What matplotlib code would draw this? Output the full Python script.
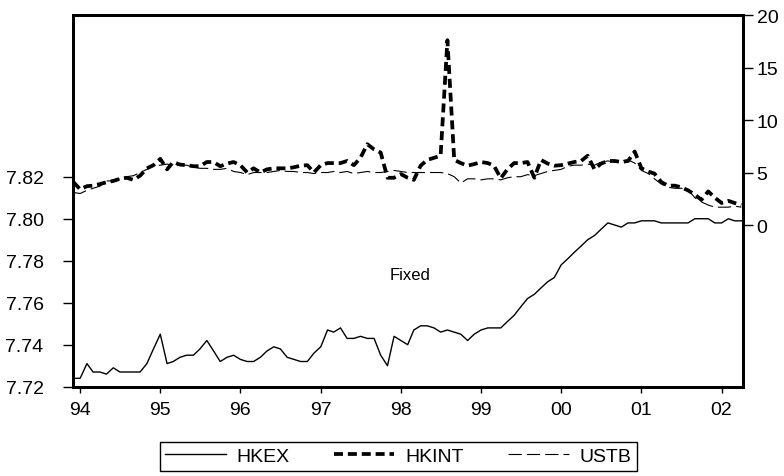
import pandas as pd
import numpy as np
import matplotlib
matplotlib.use("Agg")
import matplotlib.pyplot as plt
import matplotlib.dates as mdates

plt.rcParams['font.family'] = ['Liberation Sans', 'DejaVu Sans']

# monthly data, Dec 1993 - Apr 2002
start_month = "1993-12-01"

hkex = [7.724,
        7.724, 7.731, 7.727, 7.727, 7.726, 7.729, 7.727, 7.727, 7.727, 7.727, 7.731, 7.738,
        7.745, 7.731, 7.732, 7.734, 7.735, 7.735, 7.738, 7.742, 7.737, 7.732, 7.734, 7.735,
        7.733, 7.732, 7.732, 7.734, 7.737, 7.739, 7.738, 7.734, 7.733, 7.732, 7.732, 7.736,
        7.739, 7.747, 7.746, 7.748, 7.743, 7.743, 7.744, 7.743, 7.743, 7.735, 7.730, 7.744,
        7.742, 7.740, 7.747, 7.749, 7.749, 7.748, 7.746, 7.747, 7.746, 7.745, 7.742, 7.745,
        7.747, 7.748, 7.748, 7.748, 7.751, 7.754, 7.758, 7.762, 7.764, 7.767, 7.770, 7.772,
        7.778, 7.781, 7.784, 7.787, 7.790, 7.792, 7.795, 7.798, 7.797, 7.796, 7.798, 7.798,
        7.799, 7.799, 7.799, 7.798, 7.798, 7.798, 7.798, 7.798, 7.800, 7.800, 7.800, 7.798,
        7.798, 7.800, 7.799, 7.799]

hkint = [4.1,
         3.4, 3.7, 3.75, 3.9, 4.07, 4.2, 4.4, 4.5, 4.3, 4.7, 5.4, 5.7,
         6.3, 5.3, 6.0, 5.75, 5.7, 5.6, 5.6, 6.0, 6.0, 5.6, 5.85, 6.0,
         5.7, 5.0, 5.4, 5.0, 5.3, 5.4, 5.4, 5.4, 5.5, 5.65, 5.7, 5.0,
         5.7, 5.9, 5.9, 5.9, 6.1, 5.7, 6.4, 7.7, 7.2, 6.9, 4.5, 4.5,
         4.85, 4.5, 4.3, 5.65, 6.2, 6.4, 6.6, 17.6, 6.2, 5.9, 5.65, 5.8,
         6.0, 5.9, 5.65, 4.45, 5.3, 5.9, 5.9, 6.0, 4.5, 6.2, 5.85, 5.65,
         5.7, 5.85, 6.0, 6.1, 6.6, 5.3, 5.85, 6.1, 6.1, 6.0, 6.1, 7.0,
         5.4, 5.1, 4.9, 4.1, 3.75, 3.75, 3.6, 3.3, 2.9, 2.4, 3.2, 2.6,
         2.1, 2.3, 2.1, 1.9]

ustb = [3.1,
        3.0, 3.3, 3.5, 3.7, 4.2, 4.2, 4.4, 4.6, 4.7, 5.0, 5.3, 5.6,
        5.7, 5.8, 5.7, 5.7, 5.7, 5.5, 5.4, 5.4, 5.3, 5.3, 5.4, 5.1,
        5.0, 4.8, 5.0, 5.0, 5.0, 5.1, 5.2, 5.1, 5.1, 5.0, 5.0, 4.9,
        5.0, 5.0, 5.1, 5.0, 5.1, 4.9, 5.0, 5.1, 5.0, 5.0, 5.1, 5.2,
        5.1, 5.0, 5.0, 5.0, 5.0, 5.0, 5.0, 4.9, 4.6, 4.0, 4.4, 4.4,
        4.3, 4.4, 4.4, 4.3, 4.5, 4.6, 4.6, 4.8, 4.7, 4.9, 5.1, 5.2,
        5.3, 5.6, 5.7, 5.7, 5.8, 5.7, 6.0, 6.1, 6.0, 6.1, 6.2, 5.9,
        5.2, 4.9, 4.4, 3.9, 3.6, 3.5, 3.5, 3.4, 2.6, 2.2, 1.9, 1.7,
        1.7, 1.7, 1.8, 1.7]

left_ticks = [7.72, 7.74, 7.76, 7.78, 7.80, 7.82]
right_ticks = [0, 5, 10, 15, 20]

dates = pd.date_range(start_month, periods=len(hkex), freq="MS")

fig = plt.figure(figsize=(7.84, 4.77), dpi=100)
ax = fig.add_axes([0.0927, 0.1872, 0.8546, 0.7792])
ax2 = ax.twinx()

l1, = ax.plot(dates, hkex, color="black", lw=1.0)
l2, = ax2.plot(dates, hkint, color="black", lw=2.7, linestyle=(0, (2.4, 1.3)))
l3, = ax2.plot(dates, ustb, color="black", lw=0.8, linestyle=(0, (12, 4.5)))

ax.set_ylim(7.72, 7.897)
ax.set_yticks(left_ticks)
ax.set_yticklabels([f"{v:.2f}" for v in left_ticks])
ax2.set_ylim(-15.4, 20)
ax2.set_yticks(right_ticks)

ax.set_xlim(pd.Timestamp("1993-11-28"), pd.Timestamp("2002-04-07"))
ax.xaxis.set_major_locator(mdates.YearLocator())
ax.xaxis.set_major_formatter(mdates.DateFormatter("%y"))

for a in (ax, ax2):
    for s in a.spines.values():
        s.set_linewidth(2.0)
        s.set_color("black")

ax.tick_params(axis="y", direction="out", length=7, width=1, labelsize=14, pad=14)
ax.tick_params(axis="x", direction="out", length=4, width=1, labelsize=14, pad=6)
ax2.tick_params(axis="y", direction="out", length=7, width=1, labelsize=14, pad=3)

ax.text(pd.Timestamp("1998-02-10"), 7.7732, "Fixed", fontsize=12, ha="center", va="center")

fig.legend([l1, l2, l3], ["HKEX", "HKINT", "USTB"], loc="center",
           bbox_to_anchor=(0.508, 0.041), ncol=3, fontsize=14, frameon=True,
           fancybox=False, edgecolor="black", framealpha=1, handlelength=3.1,
           handletextpad=0.55, columnspacing=2.3, borderpad=0.3)

fig.savefig("out.png", dpi=100)
